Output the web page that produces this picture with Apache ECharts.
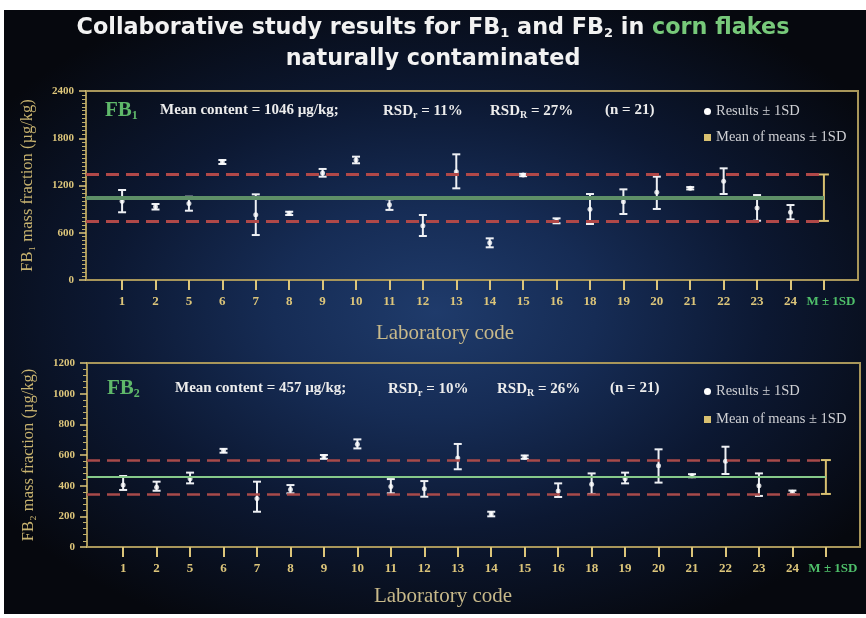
<!DOCTYPE html>
<html><head><meta charset="utf-8">
<script src="https://cdn.jsdelivr.net/npm/echarts@6/dist/echarts.min.js"></script>
<style>
html,body{margin:0;padding:0;background:#fff;width:866px;height:618px;overflow:hidden}
#bg{position:absolute;left:4px;top:10px;width:862px;height:604px;
background: radial-gradient(ellipse 62% 58% at 50% 50%, #1f3b6b 0%, #162c55 30%, #0c1832 62%, #06080e 100%);}
#chart{position:absolute;left:0;top:0;width:866px;height:618px}
</style></head><body><div id="bg"></div><div id="chart"></div>
<script>
// ---- data ----
const labs = ['1','2','5','6','7','8','9','10','11','12','13','14','15','16','18','19','20','21','22','23','24'];
const summaryLabel = 'M ± 1SD';
const categories = labs.concat([summaryLabel]);

const fb1Mean = [1000, 930, 970, 1498, 830, 847, 1360, 1524, 955, 690, 1375, 472, 1333, 752, 900, 995, 1113, 1165, 1255, 915, 860];
const fb1Low  = [ 860, 895, 880, 1473, 571, 825, 1312, 1482, 890, 559, 1164, 415, 1318, 720, 711, 838,  902, 1150, 1092, 753, 770];
const fb1High = [1143, 965,1058, 1524,1088, 867, 1410, 1566,1025, 825, 1596, 529, 1348, 783,1092,1151, 1312, 1180, 1418,1079, 952];
const fb1Summary = [1046, 750, 1340]; // mean, mean-1SD, mean+1SD

const fb2Mean = [405, 390, 445, 628, 317, 375, 590, 670, 395, 380, 580, 215, 585, 365, 410, 445, 530, 465, 560, 400, 357];
const fb2Low  = [372, 367, 415, 615, 230, 350, 575, 643, 350, 328, 507, 200, 575, 326, 346, 415, 420, 455, 476, 333, 345];
const fb2High = [463, 426, 485, 640, 426, 404, 600, 702, 443, 430, 672, 230, 597, 415, 480, 485, 637, 475, 654, 480, 368];
const fb2Summary = [457, 346, 567];

const fb1Ticks = {min: 0, max: 2400, interval: 600};
const fb2Ticks = {min: 0, max: 1200, interval: 200};

// ---- styles ----
const GOLD = '#dcc57a', FRAME = '#a8965a', SERIF = 'Liberation Serif';
const XMIN = -1.08, XMAX = 22.02;
const idx = categories.map((c, i) => i);

function errRender(color, cap) {
  return function (params, api) {
    const x = api.value(0), lo = api.value(1), hi = api.value(2);
    const a = api.coord([x, lo]), b = api.coord([x, hi]);
    const st = {stroke: color, lineWidth: 2};
    return {type: 'group', children: [
      {type: 'line', shape: {x1: a[0], y1: a[1], x2: b[0], y2: b[1]}, style: st},
      {type: 'line', shape: {x1: a[0] - cap, y1: a[1], x2: a[0] + cap, y2: a[1]}, style: st},
      {type: 'line', shape: {x1: b[0] - cap, y1: b[1], x2: b[0] + cap, y2: b[1]}, style: st}
    ]};
  };
}

function xAxis(gi) {
  return {
    type: 'value', gridIndex: gi, min: XMIN, max: XMAX,
    axisLine: {show: true, onZero: false, lineStyle: {color: FRAME, width: 2}},
    axisTick: {show: true, customValues: idx, length: 10, inside: false, lineStyle: {color: GOLD, width: 2}},
    axisLabel: {
      customValues: idx, margin: 15, color: GOLD, fontFamily: SERIF, fontWeight: 'bold', fontSize: 13,
      formatter: v => { const i = Math.round(v); return i === categories.length - 1 ? '{g|' + categories[i] + '}' : categories[i]; },
      rich: {g: {color: '#4fbf6a', fontFamily: SERIF, fontWeight: 'bold', fontSize: 13, padding: [0, 0, 0, 14]}}
    },
    splitLine: {show: false}
  };
}
function yAxis(gi, t, name, minorSplit) {
  return {
    type: 'value', gridIndex: gi, min: t.min, max: t.max, interval: t.interval,
    name: name, nameLocation: 'middle', nameRotate: 90, nameGap: 50,
    nameTextStyle: {color: '#c9b470', fontFamily: SERIF, fontSize: 16.5},
    axisLine: {show: true, onZero: false, lineStyle: {color: FRAME, width: 2}},
    axisTick: {show: true, length: 7, lineStyle: {color: GOLD, width: 1.5}},
    minorTick: {show: true, splitNumber: minorSplit, length: 4, lineStyle: {color: '#bfae6a', width: 1}},
    axisLabel: {color: GOLD, fontFamily: SERIF, fontWeight: 'bold', fontSize: 11, margin: 12, formatter: v => String(v)},
    splitLine: {show: false}
  };
}

function panelSeries(gi, mean, low, high, summary, lw) {
  const errData = labs.map((c, i) => [i, low[i], high[i]]);
  const meanData = labs.map((c, i) => [i, mean[i]]);
  const last = categories.length - 1;
  return [
    {
      type: 'line', xAxisIndex: gi, yAxisIndex: gi, data: [[last, summary[0]]], symbol: 'none',
      lineStyle: {opacity: 0}, z: 1, silent: true, animation: false, legendHoverLink: false,
      markLine: {
        symbol: 'none', silent: true, animation: false, label: {show: false},
        data: [
          [{coord: [XMIN, summary[0]], lineStyle: {color: lw.green, width: lw.gw, type: 'solid'}}, {coord: [last, summary[0]]}],
          [{coord: [XMIN, summary[1]], lineStyle: {color: lw.red, width: lw.rw, type: [13, 7]}}, {coord: [last, summary[1]]}],
          [{coord: [XMIN, summary[2]], lineStyle: {color: lw.red, width: lw.rw, type: [13, 7]}}, {coord: [last, summary[2]]}]
        ]
      }
    },
    {name: 'Results ± 1SD', type: 'custom', xAxisIndex: gi, yAxisIndex: gi, data: errData,
     renderItem: errRender('#eef0f4', 4), encode: {x: 0, y: [1, 2]}, z: 3, animation: false},
    {name: 'Results ± 1SD', type: 'scatter', xAxisIndex: gi, yAxisIndex: gi, data: meanData,
     symbol: 'circle', symbolSize: 5, itemStyle: {color: '#ffffff'}, z: 4, animation: false},
    {name: 'Mean of means ± 1SD', type: 'custom', xAxisIndex: gi, yAxisIndex: gi,
     data: [[last, summary[1], summary[2]]], renderItem: errRender('#d8c070', 5), encode: {x: 0, y: [1, 2]}, z: 3, animation: false}
  ];
}

const rich = {
  m: {fontFamily: SERIF, fontWeight: 'bold', fontSize: 15, color: '#ececec'},
  s: {fontFamily: SERIF, fontWeight: 'bold', fontSize: 10, color: '#ececec', padding: [7, 0, 0, 0]},
  f: {fontFamily: SERIF, fontWeight: 'bold', fontSize: 21, color: '#5fb86a'},
  fs: {fontFamily: SERIF, fontWeight: 'bold', fontSize: 12, color: '#5fb86a', padding: [10, 0, 0, 0]},
  w: {fontFamily: 'DejaVu Sans', fontWeight: 'bold', fontSize: 22.3, color: '#f2f2f2'},
  ws: {fontFamily: 'DejaVu Sans', fontWeight: 'bold', fontSize: 13, color: '#f2f2f2', padding: [10, 0, 0, 0]},
  g: {fontFamily: 'DejaVu Sans', fontWeight: 'bold', fontSize: 22.3, color: '#77c97a'}
};
function txt(text, left, top, align) {
  return {text: text, left: left, top: top, textAlign: align || 'left', padding: 0, textStyle: {rich: rich}};
}
function legend(top, gap) {
  return {
    left: 699, top: top, orient: 'vertical', itemGap: gap, itemWidth: 7, itemHeight: 7, selectedMode: false,
    textStyle: {color: '#cfd0d4', fontFamily: SERIF, fontSize: 14.5},
    data: [
      {name: 'Results ± 1SD', icon: 'circle', itemStyle: {color: '#ffffff'}},
      {name: 'Mean of means ± 1SD', icon: 'rect', itemStyle: {color: '#d8c070'}}
    ]
  };
}

const chart = echarts.init(document.getElementById('chart'), null, {renderer: 'canvas'});
chart.setOption({
  backgroundColor: 'transparent',
  animation: false,
  title: [
    txt('{w|Collaborative study results for FB}{ws|1}{w| and FB}{ws|2}{w| in }{g|corn flakes}', 433, 17, 'center'),
    txt('{w|naturally contaminated}', 433, 48, 'center'),
    txt('{f|FB}{fs|1}', 105, 100),
    txt('{m|Mean content = 1046 µg/kg;}', 160, 103),
    txt('{m|RSD}{s|r}{m| = 11%}', 383, 103),
    txt('{m|RSD}{s|R}{m| = 27%}', 490, 103),
    txt('{m|(n = 21)}', 605, 103),
    txt('{f|FB}{fs|2}', 107, 378),
    txt('{m|Mean content = 457 µg/kg;}', 175, 381),
    txt('{m|RSD}{s|r}{m| = 10%}', 388, 381),
    txt('{m|RSD}{s|R}{m| = 26%}', 497, 381),
    txt('{m|(n = 21)}', 610, 381),
    {text: 'Laboratory code', left: 445, top: 323, textAlign: 'center', padding: 0,
     textStyle: {color: '#c8b98a', fontFamily: SERIF, fontSize: 21, fontWeight: 'normal'}},
    {text: 'Laboratory code', left: 443, top: 586, textAlign: 'center', padding: 0,
     textStyle: {color: '#c8b98a', fontFamily: SERIF, fontSize: 21, fontWeight: 'normal'}}
  ],
  legend: [legend(99, 11), legend(379, 13)],
  grid: [
    {left: 86, top: 91, width: 772, height: 189, show: true, borderColor: FRAME, borderWidth: 2, backgroundColor: 'transparent'},
    {left: 87, top: 363, width: 773, height: 184, show: true, borderColor: FRAME, borderWidth: 2, backgroundColor: 'transparent'}
  ],
  xAxis: [xAxis(0), xAxis(1)],
  yAxis: [yAxis(0, fb1Ticks, 'FB₁ mass fraction (µg/kg)', 12), yAxis(1, fb2Ticks, 'FB₂ mass fraction (µg/kg)', 5)],
  series: [].concat(
    panelSeries(0, fb1Mean, fb1Low, fb1High, fb1Summary, {green: '#5e8f67', gw: 4, red: '#b04848', rw: 3}),
    panelSeries(1, fb2Mean, fb2Low, fb2High, fb2Summary, {green: '#86c98a', gw: 2, red: '#a84a4a', rw: 2.5})
  )
});
</script></body></html>
